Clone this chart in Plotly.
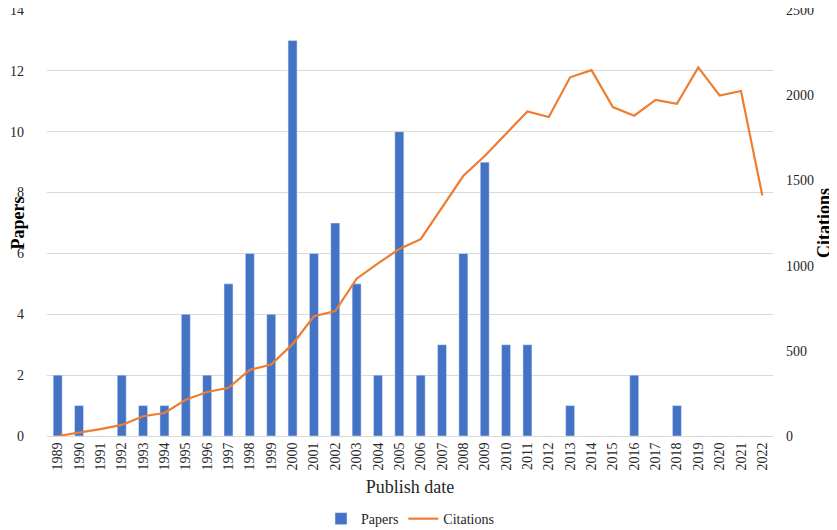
import plotly.graph_objects as go

# publication years and counts
years = [str(y) for y in range(1989, 2023)]
papers = [2, 1, 0, 2, 1, 1, 4, 2, 5, 6, 4, 13, 6, 7, 5, 2, 10, 2, 3, 6, 9, 3, 3,
          0, 1, 0, 0, 2, 0, 1, 0, 0, 0, 0]
citations = [0, 18, 40, 65, 116, 135, 213, 258, 283, 388, 419, 539, 703, 733,
             923, 1013, 1097, 1155, 1343, 1527, 1643, 1773, 1905, 1872, 2105,
             2147, 1930, 1880, 1973, 1950, 2163, 1998, 2025, 1411]

serif = "Liberation Serif"
tf = dict(family=serif, size=14, color="#262626")
title_font = dict(family=serif, size=18, color="#000", weight="bold")

fig = go.Figure()
fig.add_trace(go.Bar(x=years, y=papers, name="Papers", marker_color="#4472C4",
                     width=0.42))
fig.add_trace(go.Scatter(x=years, y=citations, name="Citations", mode="lines",
                         line=dict(color="#ED7D31", width=2.2), yaxis="y2"))

# the page body adds an 8px margin, so the figure is a bit smaller than the window
fig.update_layout(
    width=829, height=522,
    margin=dict(l=39, r=64, t=2, b=94, autoexpand=False),
    plot_bgcolor="white", paper_bgcolor="white",
    font=tf,
    showlegend=True,
    legend=dict(orientation="h", x=0.5, xanchor="center", yref="container",
                y=0.021, yanchor="middle", font=tf, itemwidth=30),
    xaxis=dict(tickangle=-90, showgrid=False, ticks="", linecolor="#d9d9d9",
               title=dict(text="Publish date", font=dict(family=serif, size=18, color="#262626"),
                          standoff=10),
               tickfont=tf),
    yaxis=dict(range=[0, 14], dtick=2, gridcolor="#d9d9d9", zeroline=False,
               ticks="", ticklabelstandoff=22, ticklabeloverflow="allow", tickfont=tf,
               title=dict(text="Papers", font=title_font, standoff=0)),
    yaxis2=dict(range=[0, 2500], dtick=500, overlaying="y", side="right",
                showgrid=False, zeroline=False, ticks="", ticklabelstandoff=12,
                ticklabeloverflow="allow", tickfont=tf,
                title=dict(text="Citations", font=title_font, standoff=3)),
)

fig.write_html("out.html")
